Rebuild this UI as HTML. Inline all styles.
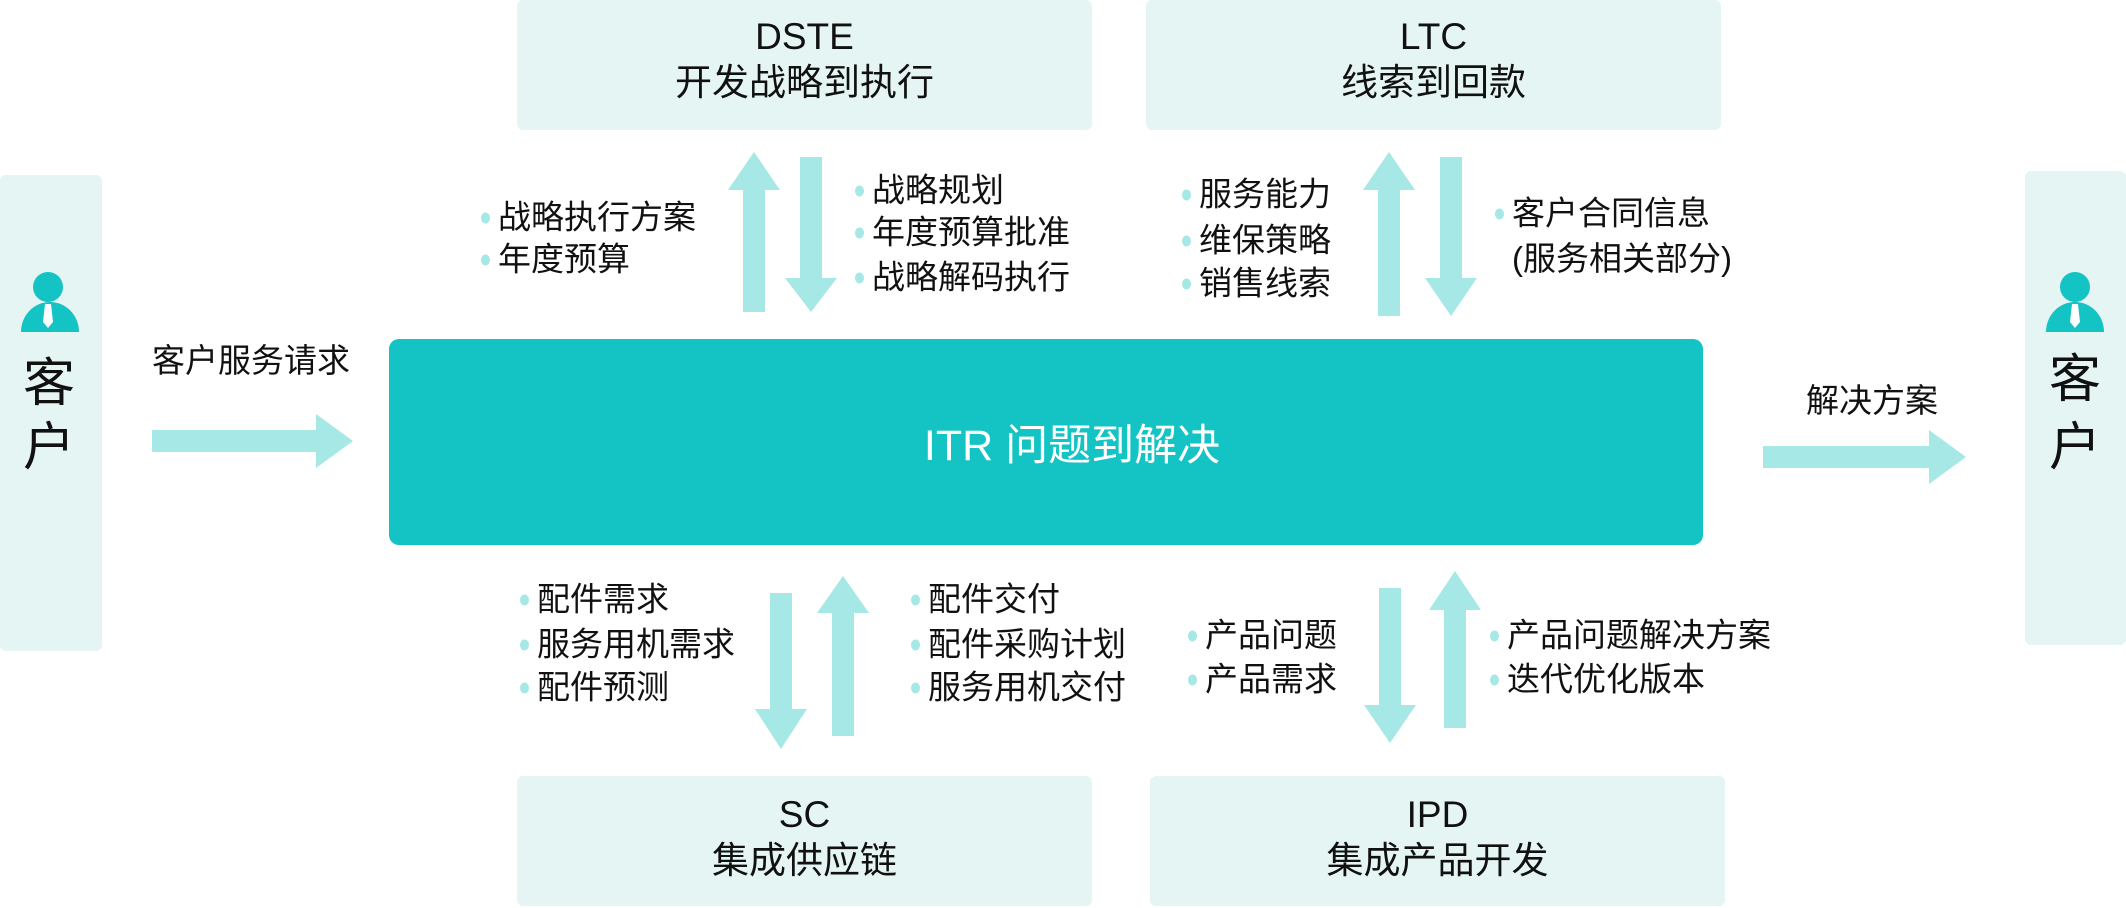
<!DOCTYPE html>
<html><head><meta charset="utf-8"><style>
body{margin:0;width:2126px;height:908px;background:#fff;position:relative;overflow:hidden;font-family:"Liberation Sans","Noto Sans CJK SC",sans-serif;color:#111}
.b{position:absolute;background:#e5f5f4;border-radius:6px}
.t{position:absolute;white-space:nowrap;line-height:1}
.c{text-align:center;font-size:37px;line-height:46px}
.li{position:absolute;font-size:33px;white-space:nowrap;line-height:1;transform:translateY(-50%)}
.li::before{content:"";position:absolute;left:-17px;top:50%;width:9px;height:11px;margin-top:-5px;border-radius:50%;background:#a5e8e6}
</style></head><body>
<div class="b" style="left:0;top:175px;width:102px;height:476px"></div>
<div class="b" style="left:2025px;top:171px;width:101px;height:474px"></div>
<div class="b c" style="left:517px;top:0;width:575px;height:130px;padding-top:14px;box-sizing:border-box">DSTE<br>开发战略到执行</div>
<div class="b c" style="left:1146px;top:0;width:575px;height:130px;padding-top:14px;box-sizing:border-box">LTC<br>线索到回款</div>
<div class="b c" style="left:517px;top:776px;width:575px;height:130px;padding-top:16px;box-sizing:border-box">SC<br>集成供应链</div>
<div class="b c" style="left:1150px;top:776px;width:575px;height:130px;padding-top:16px;box-sizing:border-box">IPD<br>集成产品开发</div>
<div style="position:absolute;left:389px;top:339px;width:1314px;height:206px;background:#14c3c3;border-radius:10px;color:#fff;font-size:43px;display:flex;align-items:center;justify-content:center;padding-left:52px;box-sizing:border-box">ITR 问题到解决</div>
<svg style="position:absolute;left:0;top:0" width="2126" height="908">
<g fill="#14c3c3">
<circle cx="48" cy="287" r="15"/><path d="M21 332 A29 30 0 0 1 79 332 Z"/>
<circle cx="2075" cy="287" r="15"/><path d="M2046 332 A29 30 0 0 1 2104 332 Z"/>
</g>
<g fill="#fff"><path d="M45 304 L51 304 L53 322 L48 328 L43 322 Z"/><path d="M2072 304 L2078 304 L2080 322 L2075 328 L2070 322 Z"/></g>
<g fill="#a5e8e6">
<path d="M743 312 V190 H728 L754 152 L780 190 H765 V312 Z"/>
<path d="M800 157 H822 V278 H837 L811 312 L785 278 H800 Z"/>
<path d="M1378 316 V190 H1363 L1389 152 L1415 190 H1400 V316 Z"/>
<path d="M1440 157 H1462 V278 H1477 L1451 316 L1425 278 H1440 Z"/>
<path d="M770 593 H792 V709 H807 L781 749 L755 709 H770 Z"/>
<path d="M832 736 V613 H817 L843 576 L869 613 H854 V736 Z"/>
<path d="M1379 588 H1401 V705 H1416 L1390 743 L1364 705 H1379 Z"/>
<path d="M1444 728 V610 H1429 L1455 571 L1481 610 H1466 V728 Z"/>
<path d="M152 430 H316 V414 L353 441 L316 468 V452 H152 Z"/>
<path d="M1763 446 H1929 V430 L1966 457 L1929 484 V468 H1763 Z"/>
</g>
</svg>
<div class="t" style="left:23px;top:358px;font-size:52px">客</div>
<div class="t" style="left:23px;top:422px;font-size:52px">户</div>
<div class="t" style="left:2049px;top:354px;font-size:52px">客</div>
<div class="t" style="left:2049px;top:422px;font-size:52px">户</div>
<div class="t" style="left:152px;top:344px;font-size:33px">客户服务请求</div>
<div class="t" style="left:1806px;top:384px;font-size:33px">解决方案</div>
<div class="li" style="left:498px;top:217px">战略执行方案</div>
<div class="li" style="left:498px;top:259px">年度预算</div>
<div class="li" style="left:872px;top:190px">战略规划</div>
<div class="li" style="left:872px;top:232px">年度预算批准</div>
<div class="li" style="left:872px;top:277px">战略解码执行</div>
<div class="li" style="left:1199px;top:194px">服务能力</div>
<div class="li" style="left:1199px;top:240px">维保策略</div>
<div class="li" style="left:1199px;top:283px">销售线索</div>
<div class="li" style="left:1512px;top:213px">客户合同信息</div>
<div class="t" style="left:1512px;top:242px;font-size:33px">(服务相关部分)</div>
<div class="li" style="left:537px;top:599px">配件需求</div>
<div class="li" style="left:537px;top:644px">服务用机需求</div>
<div class="li" style="left:537px;top:687px">配件预测</div>
<div class="li" style="left:928px;top:599px">配件交付</div>
<div class="li" style="left:928px;top:644px">配件采购计划</div>
<div class="li" style="left:928px;top:687px">服务用机交付</div>
<div class="li" style="left:1205px;top:635px">产品问题</div>
<div class="li" style="left:1205px;top:679px">产品需求</div>
<div class="li" style="left:1507px;top:635px">产品问题解决方案</div>
<div class="li" style="left:1507px;top:679px">迭代优化版本</div>
</body></html>
